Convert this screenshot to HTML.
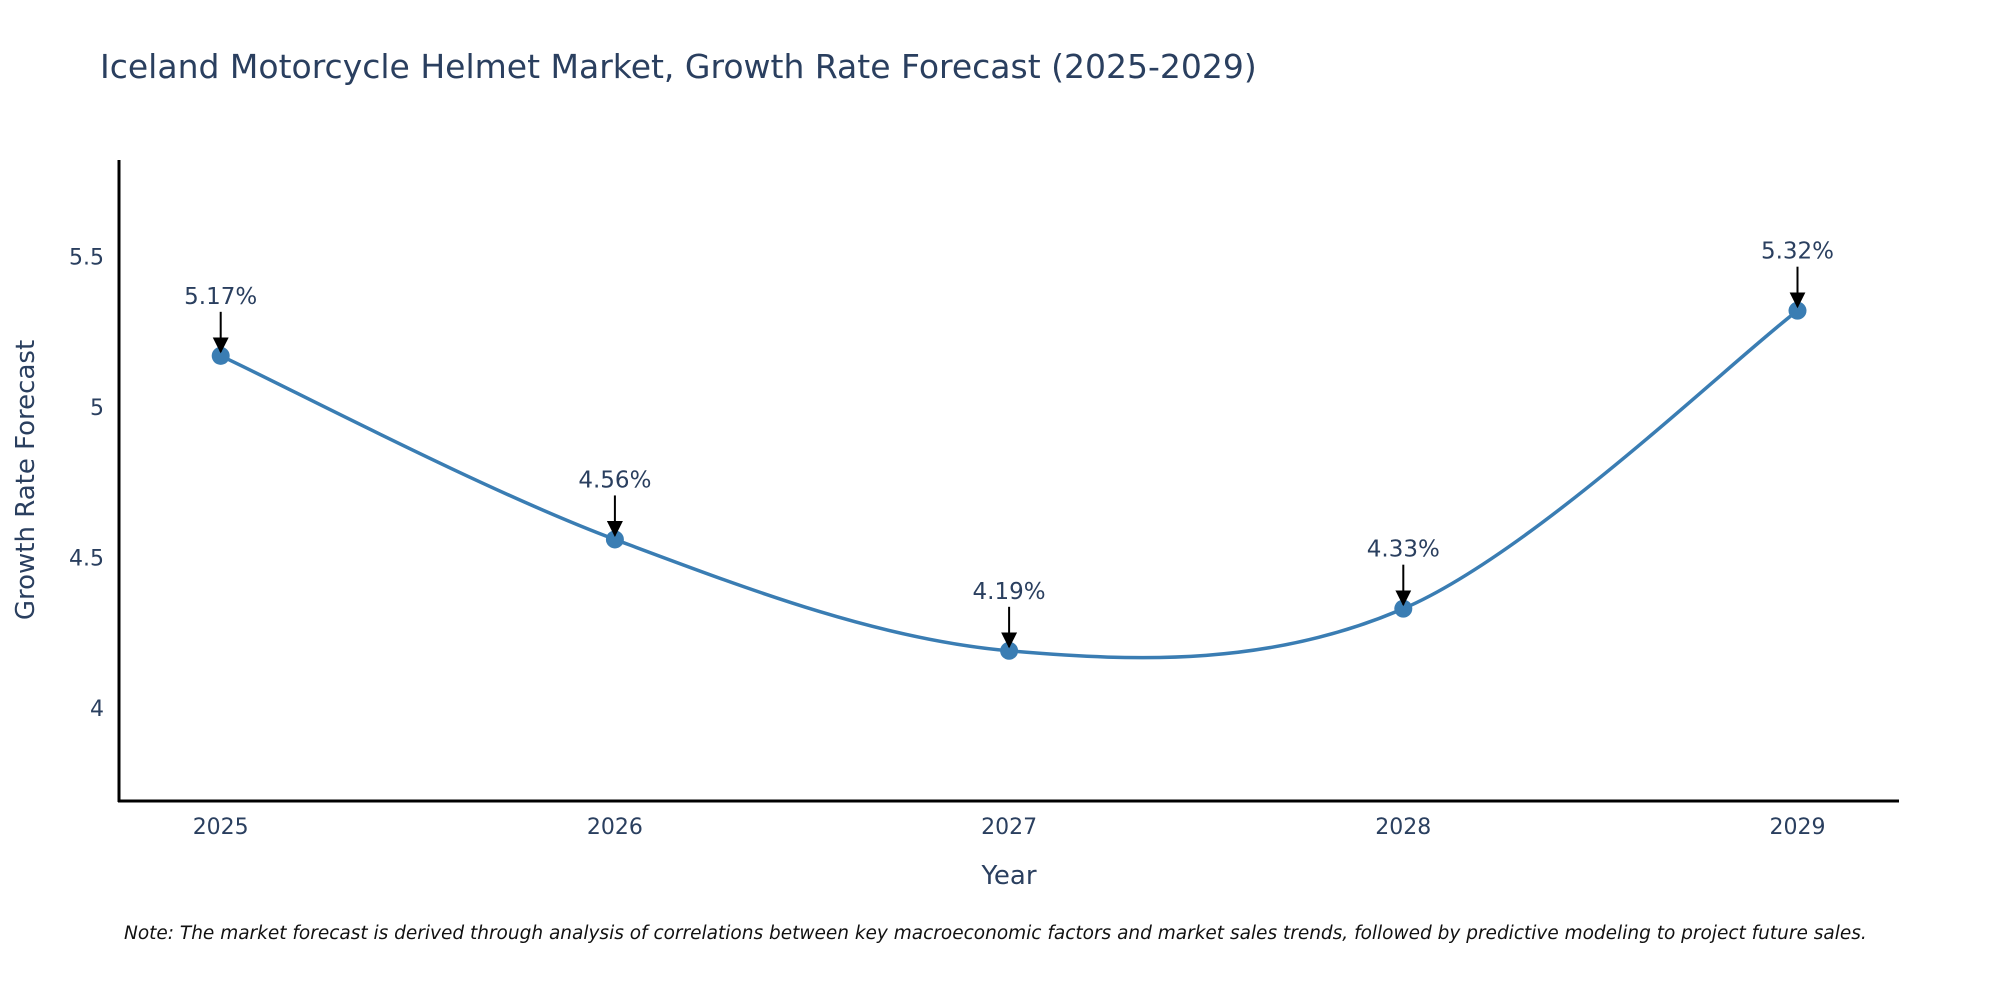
<!DOCTYPE html>
<html><head><meta charset="utf-8"><style>
body{margin:0;background:#fff;}
svg text{font-family:"DejaVu Sans","Liberation Sans",sans-serif;fill:#2a3f5f;}
</style></head><body>
<svg id="chart" width="2000" height="1000" xmlns="http://www.w3.org/2000/svg">
<defs><marker id="ah" viewBox="0 0 10 10" refX="10" refY="5" markerWidth="7" markerHeight="7" markerUnits="userSpaceOnUse" orient="auto"><path d="M0,0 L10,5 L0,10 z" fill="#000"/></marker>
<marker id="ah2" viewBox="0 0 10 10" refX="9" refY="5" markerWidth="16" markerHeight="16" markerUnits="userSpaceOnUse" orient="auto"><path d="M0,0 L10,5 L0,10 z" fill="#000"/></marker></defs>
<text x="100" y="78" font-size="33">Iceland Motorcycle Helmet Market, Growth Rate Forecast (2025-2029)</text>
<g id="yticks"></g><g id="xticks"></g>
<line x1="119" y1="160" x2="119" y2="802" stroke="#000" stroke-width="3"/>
<line x1="118" y1="801" x2="1899" y2="801" stroke="#000" stroke-width="3"/>
<text transform="translate(34,480) rotate(-90)" text-anchor="middle" font-size="26">Growth Rate Forecast</text>
<text x="1009" y="884" text-anchor="middle" font-size="26">Year</text>
<g id="series"></g>
<text x="124" y="939" font-size="18.5" font-style="italic" style="fill:#111">Note: The market forecast is derived through analysis of correlations between key macroeconomic factors and market sales trends, followed by predictive modeling to project future sales.</text>
</svg>
<script>
const years=[2025,2026,2027,2028,2029];
const values=[5.17,4.56,4.19,4.33,5.32];
const labels=["5.17%","4.56%","4.19%","4.33%","5.32%"];
const yTicks=[4,4.5,5,5.5];
const NS="http://www.w3.org/2000/svg";
const xs=y=>220.7+(y-2025)*394.2;
const ys=v=>407-(v-5)*301;
function el(t,a,p){const e=document.createElementNS(NS,t);for(const k in a)e.setAttribute(k,a[k]);p.appendChild(e);return e;}
const yt=document.getElementById('yticks');
yTicks.forEach(v=>{const t=el('text',{x:104,y:ys(v)+8,'text-anchor':'end','font-size':22},yt);


t.textContent=String(v);});
const xt=document.getElementById('xticks');
years.forEach(y=>{const t=el('text',{x:xs(y),y:834,'text-anchor':'middle','font-size':22},xt);


t.textContent=String(y);});
const g=document.getElementById('series');
const P=years.map((y,i)=>[xs(y),ys(values[i])]);
let d='M'+P[0][0]+','+P[0][1];
for(let i=0;i<P.length-1;i++){const p0=P[Math.max(0,i-1)],p1=P[i],p2=P[i+1],p3=P[Math.min(P.length-1,i+2)];
const c1=[p1[0]+(p2[0]-p0[0])/6,p1[1]+(p2[1]-p0[1])/6],c2=[p2[0]-(p3[0]-p1[0])/6,p2[1]-(p3[1]-p1[1])/6];
d+=' C'+c1+' '+c2+' '+p2;}
const line=el('path',{d:d,fill:'none',stroke:'#3a7db3','stroke-width':3.5},g);


P.forEach((p,i)=>{const c=el('circle',{cx:p[0],cy:p[1],r:9,fill:'#3a7db3'},g);


const a=el('line',{x1:p[0],y1:p[1]-44,x2:p[0],y2:p[1]-4,stroke:'#000','stroke-width':2,'marker-end':'url(#ah2)'},g);


const t=el('text',{x:p[0],y:p[1]-52,'text-anchor':'middle','font-size':23},g);


t.textContent=labels[i];});
</script>
</body></html>
